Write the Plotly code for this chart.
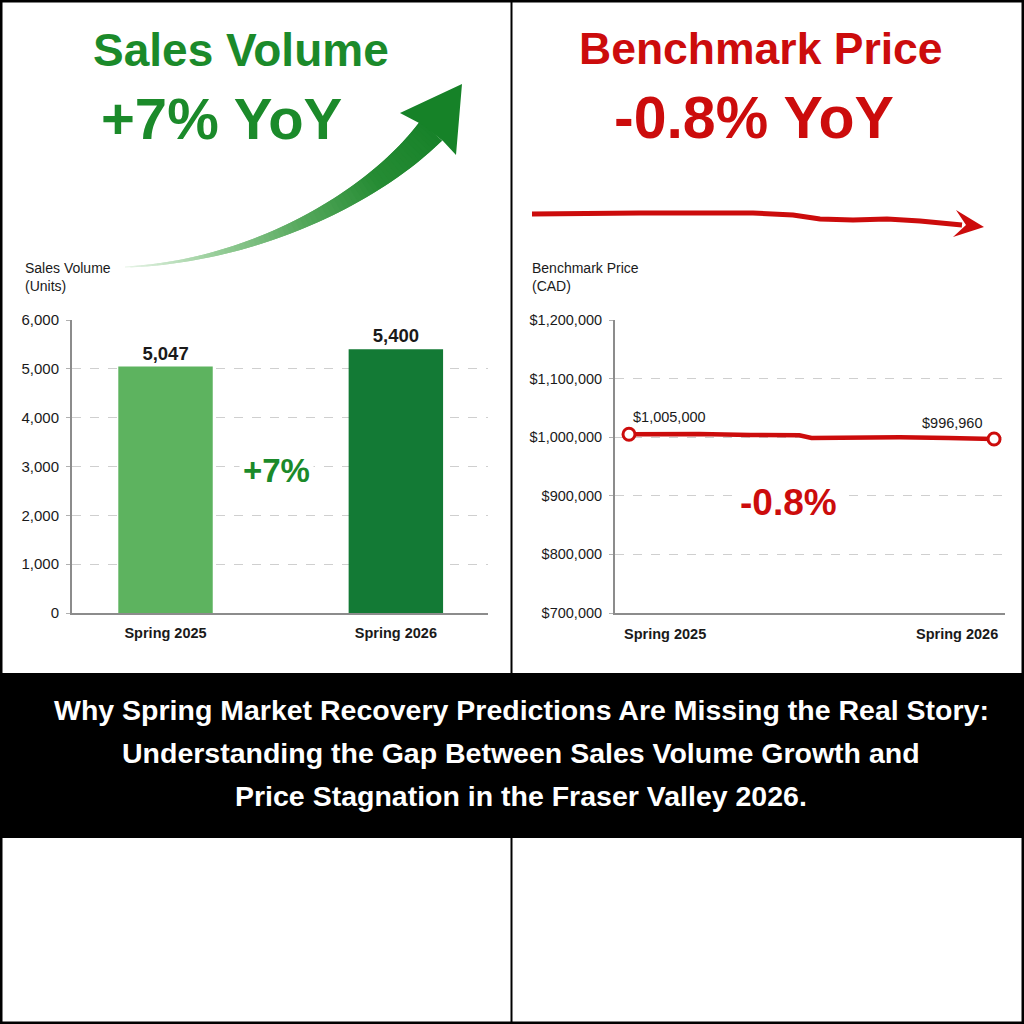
import numpy as np
import plotly.graph_objects as go

# ---------------- data ----------------
periods = ["Spring 2025", "Spring 2026"]
sales_units = [5047, 5400]
sales_ticks = [0, 1000, 2000, 3000, 4000, 5000, 6000]

price_month = [0, 1.6, 2.3, 4.0, 5.6, 6.0, 7.8, 8.9, 10.5, 12]
benchmark_price = [1005000, 1005600, 1005500, 1003600, 1003400, 998800, 999500, 999800, 998600, 996960]
price_ticks = [700000, 800000, 900000, 1000000, 1100000, 1200000]

headline_lines = [
    "Why Spring Market Recovery Predictions Are Missing the Real Story:",
    "Understanding the Gap Between Sales Volume Growth and",
    "Price Stagnation in the Fraser Valley 2026.",
]

# ---------------- style ----------------
W = H = 1024
F = "Liberation Sans, Arial, Helvetica, sans-serif"
GREEN = "#1B8A2A"
GREEN_LIGHT = "#5DB35F"
GREEN_DARK = "#137A35"
RED = "#CC0C0C"
TXT = "#1a1a1a"


def px(x):
    return x / W


def py(y):
    return 1 - y / H


sales_pct = round((sales_units[1] / sales_units[0] - 1) * 100)
price_pct = (benchmark_price[-1] / benchmark_price[0] - 1) * 100

fig = go.Figure()

fig.add_trace(go.Bar(
    x=periods, y=sales_units, xaxis="x", yaxis="y",
    marker=dict(color=[GREEN_LIGHT, GREEN_DARK], line=dict(width=0)),
    width=0.41,
    text=[f"{v:,}" for v in sales_units], textposition="outside",
    textfont=dict(family=F, size=18.5, color=TXT, weight="bold"),
    constraintext="none", cliponaxis=False, showlegend=False,
))

fig.add_trace(go.Scatter(
    x=price_month, y=benchmark_price, xaxis="x2", yaxis="y2",
    mode="lines", line=dict(color=RED, width=4.5), showlegend=False,
))
fig.add_trace(go.Scatter(
    x=[price_month[0], price_month[-1]], y=[benchmark_price[0], benchmark_price[-1]],
    xaxis="x2", yaxis="y2", mode="markers",
    marker=dict(symbol="circle", size=12, color="white", line=dict(color=RED, width=3)),
    showlegend=False, cliponaxis=False,
))

y0, y1 = py(613), py(320)
axis_common = dict(showgrid=False, zeroline=False, showline=True, linecolor="#8c8c8c",
                   linewidth=2, fixedrange=True, automargin=False)
fig.update_layout(
    width=W, height=H, margin=dict(l=0, r=0, t=0, b=0, pad=0, autoexpand=False),
    paper_bgcolor="white", plot_bgcolor="white",
    xaxis=dict(domain=[px(72), px(488)], type="category", range=[-0.406, 1.4],
               ticks="", tickfont=dict(family=F, size=14.5, color=TXT, weight="bold"),
               ticklabelstandoff=6, **axis_common),
    yaxis=dict(domain=[y0, y1], range=[0, 6000], tickvals=sales_ticks,
               ticktext=[f"{v:,}" for v in sales_ticks],
               ticks="outside", ticklen=4, tickcolor="#b0b0b0",
               tickfont=dict(family=F, size=15, color=TXT), ticklabelstandoff=4,
               showgrid=True, gridcolor="#cfcfcf", griddash="dash", gridwidth=1,
               zeroline=False, showline=True, linecolor="#8c8c8c", linewidth=2,
               fixedrange=True, automargin=False),
    xaxis2=dict(domain=[px(615), px(1005)], range=[-0.46, 12.36], showticklabels=False,
                ticks="", anchor="y2", **axis_common),
    yaxis2=dict(domain=[y0, y1], range=[700000, 1200000], tickvals=price_ticks,
                ticktext=[f"${v:,}" for v in price_ticks], anchor="x2",
                ticks="outside", ticklen=4, tickcolor="#b0b0b0",
                tickfont=dict(family=F, size=14.5, color=TXT), ticklabelstandoff=4,
                showgrid=True, gridcolor="#cfcfcf", griddash="dash", gridwidth=1,
                zeroline=False, showline=True, linecolor="#8c8c8c", linewidth=2,
                fixedrange=True, automargin=False),
)

ann = []


def add_text(text, x, y, size, color, bold=False, xanchor="center", yanchor="middle",
             align="center", bg=None):
    d = dict(text=text, x=px(x), y=py(y), xref="paper", yref="paper",
             xanchor=xanchor, yanchor=yanchor, align=align, showarrow=False,
             font=dict(family=F, size=size, color=color, weight="bold" if bold else "normal"))
    if bg:
        d["bgcolor"] = bg
        d["borderpad"] = 3
    ann.append(d)


# big headers
add_text("Sales Volume", 241, 50, 46, GREEN, bold=True)
add_text(f"+{sales_pct}% YoY", 221, 118, 58, GREEN, bold=True)
add_text("Benchmark Price", 761, 48, 44.5, RED, bold=True)
add_text(f"{price_pct:.1f}% YoY", 754, 118, 59, RED, bold=True)

# axis titles
add_text("Sales Volume<br>(Units)", 23, 277, 14, TXT, xanchor="left", align="left")
add_text("Benchmark Price<br>(CAD)", 530, 277, 14, TXT, xanchor="left", align="left")

# change callouts
add_text(f"+{sales_pct}%", 276, 470, 33, GREEN, bold=True, bg="white")
add_text(f"{price_pct:.1f}%", 788, 502, 37, RED, bold=True, bg="white")

# price-chart x labels
ann.append(dict(text=periods[0], x=price_month[0], y=py(634), xref="x2", yref="paper",
                xanchor="left", yanchor="middle", xshift=-7, showarrow=False,
                font=dict(family=F, size=14.5, color=TXT, weight="bold")))
ann.append(dict(text=periods[1], x=price_month[-1], y=py(634), xref="x2", yref="paper",
                xanchor="right", yanchor="middle", xshift=6, showarrow=False,
                font=dict(family=F, size=14.5, color=TXT, weight="bold")))

# price point labels
ann.append(dict(text=f"${benchmark_price[0]:,}", x=price_month[0], y=benchmark_price[0],
                xref="x2", yref="y2", xanchor="left", yanchor="bottom", xshift=2, yshift=7,
                showarrow=False, font=dict(family=F, size=14.5, color=TXT)))
ann.append(dict(text=f"${benchmark_price[-1]:,}", x=price_month[-1], y=benchmark_price[-1],
                xref="x2", yref="y2", xanchor="right", yanchor="bottom", xshift=-10, yshift=6,
                showarrow=False, font=dict(family=F, size=14.5, color=TXT)))

# banner headline
for line, yy in zip(headline_lines, [710, 753, 796]):
    add_text(line, 521, yy, 28.5, "white", bold=True)

fig.update_layout(annotations=ann)

# ---------------- decorative shapes ----------------
shapes = []


def poly(points, color, opacity=1.0, layer="above"):
    d = "M " + " L ".join(f"{px(x):.5f},{py(y):.5f}" for x, y in points) + " Z"
    shapes.append(dict(type="path", path=d, xref="paper", yref="paper",
                       fillcolor=color, line=dict(width=0), opacity=opacity, layer=layer))


# banner
poly([(0, 673), (1024, 673), (1024, 838), (0, 838)], "black")

# green curved arrow body (gradient)
P = np.array([[125, 267], [250, 262], [370, 200], [431, 131]], float)
N = 70
t = np.linspace(0, 1, N + 1)
B = ((1 - t) ** 3)[:, None] * P[0] + (3 * (1 - t) ** 2 * t)[:, None] * P[1] + \
    (3 * (1 - t) * t ** 2)[:, None] * P[2] + (t ** 3)[:, None] * P[3]
D = (3 * (1 - t) ** 2)[:, None] * (P[1] - P[0]) + (6 * (1 - t) * t)[:, None] * (P[2] - P[1]) + \
    (3 * t ** 2)[:, None] * (P[3] - P[2])
Nrm = np.stack([D[:, 1], -D[:, 0]], axis=1)
Nrm /= np.linalg.norm(Nrm, axis=1)[:, None]
wid = 1.2 + 28 * t ** 1.5
stops = [(0.0, (232, 244, 232)), (0.25, (150, 205, 152)), (0.5, (85, 168, 92)),
         (0.75, (38, 140, 52)), (1.0, (24, 130, 42))]


def col(tt):
    for (a, ca), (b, cb) in zip(stops[:-1], stops[1:]):
        if a <= tt <= b:
            f = (tt - a) / (b - a)
            c = [int(round(ca[k] + (cb[k] - ca[k]) * f)) for k in range(3)]
            return f"rgb({c[0]},{c[1]},{c[2]})"
    return "rgb(24,130,42)"


for i in range(N):
    j = min(i + 2, N)
    a1 = B[i] + Nrm[i] * wid[i] / 2
    a2 = B[j] + Nrm[j] * wid[j] / 2
    b2 = B[j] - Nrm[j] * wid[j] / 2
    b1 = B[i] - Nrm[i] * wid[i] / 2
    poly([tuple(a1), tuple(a2), tuple(b2), tuple(b1)], col((t[i] + t[i + 1]) / 2))
# arrow head
poly([(462, 84), (400, 113), (421, 124), (443, 141), (456, 155)], "rgb(22,130,40)")

# red wavy arrow
pts = [(532, 214), (640, 213), (753, 213), (793, 215), (820, 219), (853, 220),
       (887, 219), (920, 221), (962, 225)]
path = "M " + " L ".join(f"{px(x):.5f},{py(y):.5f}" for x, y in pts)
shapes.append(dict(type="path", path=path, xref="paper", yref="paper",
                   line=dict(color=RED, width=5)))
poly([(984, 227), (956, 210), (966, 225), (953, 237)], RED)

# frame and dividers
shapes.append(dict(type="rect", x0=0, x1=1, y0=0, y1=1, xref="paper", yref="paper",
                   line=dict(color="black", width=5)))
shapes.append(dict(type="line", x0=px(511.5), x1=px(511.5), y0=py(0), y1=py(673),
                   xref="paper", yref="paper", line=dict(color="black", width=2)))
shapes.append(dict(type="line", x0=px(511.5), x1=px(511.5), y0=py(838), y1=py(1024),
                   xref="paper", yref="paper", line=dict(color="black", width=2)))

fig.update_layout(shapes=shapes)

fig.write_html("out.html",
               post_script="document.body.style.margin='0';document.body.style.overflow='hidden';")
